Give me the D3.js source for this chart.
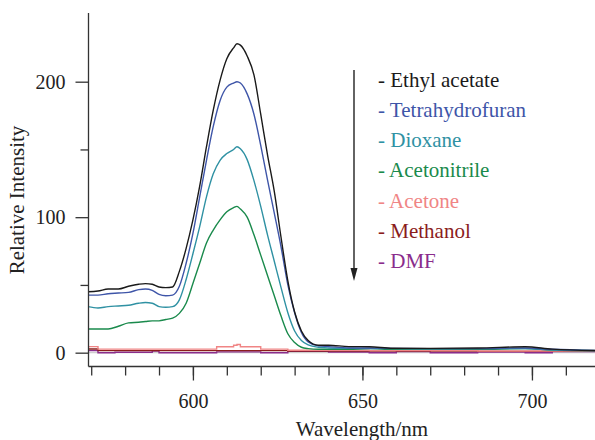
<!DOCTYPE html>
<html>
<head>
<meta charset="utf-8">
<script src="https://cdn.jsdelivr.net/npm/d3@7"></script>
<style>
  html, body { margin: 0; padding: 0; background: #fff; }
</style>
</head>
<body>
<div id="chart"></div>
<script>
// Emission spectra in different solvents
const wavelength = [569, 572, 575, 578, 581, 584, 586, 588, 590, 592, 594, 596, 598, 600, 602, 604, 606, 608, 610, 612, 613,
  614, 616, 618, 620, 622, 624, 626, 628, 630, 632, 634, 637, 640, 646, 652, 659, 670, 684, 698, 706, 720];
const ethylAcetate = [45, 45.5, 47, 47, 49, 50.5, 51, 50.5, 48.5, 48, 48.5, 60, 77, 98, 123, 152, 179, 201, 217, 225, 228,
  227, 219, 205, 176, 146, 119, 85, 53, 30, 16, 9, 5.5, 5.5, 4.5, 4.4, 3.3, 3.2, 3.4, 4.4, 2.6, 1.5];
const tetrahydrofuran = [42.5, 42.5, 43.5, 44, 44.5, 46.5, 47, 46, 43, 42, 42.5, 49, 66, 88, 115, 142, 167, 186, 196, 199, 200,
  199, 191, 176, 153, 127.5, 103, 78, 50, 29.5, 15, 8, 5, 4.5, 3.5, 3.5, 3.2, 3, 3, 3.5, 2.5, 1.5];
const dioxane = [34, 33, 34, 34.5, 35, 36.5, 37, 36.5, 34, 33.5, 34, 39, 54, 73, 93, 115, 132, 142, 147, 150, 152,
  150.5, 142.5, 127, 108, 87, 67.5, 48, 29.5, 16, 9, 5.7, 4, 3.5, 3.2, 3, 3, 2.8, 3, 3, 2, 1.5];
const acetonitrile = [17.5, 17.5, 17.5, 19.5, 22, 22.5, 23, 23.5, 23.5, 24.5, 25.5, 29, 36.5, 51, 66, 81, 90.5, 98, 104, 107, 108,
  106, 100, 87, 72, 57, 42, 27, 14, 7.5, 4, 3, 2.5, 2.5, 2.5, 3, 2.5, 2.5, 2.5, 3, 2, 1.5];

// the weak ones, read on a coarser grid
const lowWavelength = [569, 572, 577, 588, 590, 600, 607, 612, 613, 614, 620, 628, 640, 652, 660, 670, 684, 698, 706, 720];
const acetone = [4.5, 2.6, 2.6, 2.6, 2.6, 2.6, 4.4, 5.5, 6, 4.4, 2.6, 1.8, 1.8, 1.5, 1.5, 1.5, 1.2, 1.2, 1.2, 1.2];
const methanol = [2.7, 1.5, 1.5, 1.5, 1.5, 1.5, 1.5, 1.5, 1.5, 1.5, 1.5, 1.2, 1.2, 1.2, 1.2, 1.2, 1, 1, 1, 1];
const dmf = [1.5, 0, 0.3, 1.2, 0, 0, 0.6, 0.6, 0.6, 0.6, 0, 1, 0.5, 0, 0.8, 0, 0.5, 0, 0.8, 0.5];

const solvents = ["Ethyl acetate", "Tetrahydrofuran", "Dioxane", "Acetonitrile", "Acetone", "Methanol", "DMF"];
const colors = ["#1a1a1a", "#3e55a8", "#2f91a3", "#1a8a4c", "#f08585", "#8b1c1c", "#8a2c8c"];

const xMajorTicks = [600, 650, 700];
const yMajorTicks = [0, 100, 200];

const width = 595;
const height = 440;
const marginTop = 13;
const marginRight = 0;
const marginBottom = 73.5;
const marginLeft = 88.5;

const x = d3.scaleLinear()
  .domain([569.2, 718.6])
  .range([marginLeft, width - marginRight]);

const y = d3.scaleLinear()
  .domain([-10.2, 250.7])
  .range([height - marginBottom, marginTop]);

const svg = d3.select("#chart")
  .append("svg")
  .attr("width", width)
  .attr("height", height)
  .style("font-family", "'Liberation Serif', 'Times New Roman', serif");

svg.append("defs").append("clipPath")
  .attr("id", "plot")
  .append("rect")
  .attr("x", marginLeft)
  .attr("y", marginTop)
  .attr("width", width - marginLeft - marginRight)
  .attr("height", height - marginTop - marginBottom);

const plot = svg.append("g").attr("clip-path", "url(#plot)");

// faint zero line
plot.append("line")
  .attr("x1", marginLeft)
  .attr("x2", width)
  .attr("y1", y(0))
  .attr("y2", y(0))
  .attr("stroke", "#cfcfcf")
  .attr("stroke-width", 1.2);

const series = [
  { name: "DMF", xs: lowWavelength, ys: dmf, curve: d3.curveStepAfter },
  { name: "Methanol", xs: lowWavelength, ys: methanol, curve: d3.curveStepAfter },
  { name: "Acetone", xs: lowWavelength, ys: acetone, curve: d3.curveStepAfter },
  { name: "Acetonitrile", xs: wavelength, ys: acetonitrile, curve: d3.curveMonotoneX },
  { name: "Dioxane", xs: wavelength, ys: dioxane, curve: d3.curveMonotoneX },
  { name: "Tetrahydrofuran", xs: wavelength, ys: tetrahydrofuran, curve: d3.curveMonotoneX },
  { name: "Ethyl acetate", xs: wavelength, ys: ethylAcetate, curve: d3.curveMonotoneX }
];

series.forEach((s) => {
  const pts = s.xs.map((w, i) => [w, s.ys[i]]);
  const line = d3.line()
    .x((d) => x(d[0]))
    .y((d) => y(d[1]))
    .curve(s.curve);
  plot.append("path")
    .datum(pts)
    .attr("fill", "none")
    .attr("stroke", colors[solvents.indexOf(s.name)])
    .attr("stroke-width", 1.4)
    .attr("d", line);
});

// x axis: ticks hang below the line
const xAxis = svg.append("g")
  .attr("transform", `translate(0,${height - marginBottom})`);
xAxis.call(d3.axisBottom(x).tickValues(d3.range(570, 720, 10)).tickSize(9).tickFormat(""))
  .call((g) => g.select(".domain").remove());
xAxis.append("g")
  .call(d3.axisBottom(x).tickValues(xMajorTicks).tickSize(14).tickPadding(13).tickFormat(d3.format("d")))
  .call((g) => g.select(".domain").remove());
xAxis.append("line")
  .attr("x1", marginLeft)
  .attr("x2", width)
  .attr("stroke", "#333")
  .attr("stroke-width", 1.3);
xAxis.selectAll("line").attr("stroke", "#333").attr("stroke-width", 1.3);
xAxis.selectAll("text")
  .attr("fill", "#222")
  .style("font-size", "20px")
  .style("font-family", "'Liberation Serif', serif");

// y axis
const yAxis = svg.append("g")
  .attr("transform", `translate(${marginLeft},0)`);
yAxis.call(d3.axisLeft(y).tickValues([50, 150]).tickSize(8).tickFormat(""))
  .call((g) => g.select(".domain").remove());
yAxis.append("g")
  .call(d3.axisLeft(y).tickValues(yMajorTicks).tickSize(13).tickPadding(10).tickFormat(d3.format("d")))
  .call((g) => g.select(".domain").remove());
yAxis.append("line")
  .attr("y1", marginTop)
  .attr("y2", height - marginBottom)
  .attr("stroke", "#333")
  .attr("stroke-width", 1.3);
yAxis.selectAll("line").attr("stroke", "#333").attr("stroke-width", 1.3);
yAxis.selectAll("text")
  .attr("fill", "#222")
  .style("font-size", "20px")
  .style("font-family", "'Liberation Serif', serif");

// axis titles
svg.append("text")
  .attr("x", 362)
  .attr("y", 435.5)
  .attr("text-anchor", "middle")
  .attr("fill", "#222")
  .style("font-size", "21px")
  .text("Wavelength/nm");

svg.append("text")
  .attr("transform", "translate(24,200) rotate(-90)")
  .attr("text-anchor", "middle")
  .attr("fill", "#222")
  .style("font-size", "21px")
  .text("Relative Intensity");

// legend with the arrow showing decreasing intensity
const legend = svg.append("g");
legend.append("line")
  .attr("x1", 354)
  .attr("x2", 354)
  .attr("y1", 70)
  .attr("y2", 270)
  .attr("stroke", "#222")
  .attr("stroke-width", 1.4);
legend.append("path")
  .attr("d", "M350.5,268 L357.5,268 L354,281 Z")
  .attr("fill", "#222");

legend.selectAll("text")
  .data(solvents)
  .join("text")
  .attr("x", 378)
  .attr("y", (d, i) => 86.7 + i * 30.2)
  .attr("fill", (d, i) => colors[i])
  .style("font-size", "21px")
  .text((d) => "- " + d);
</script>
</body>
</html>
